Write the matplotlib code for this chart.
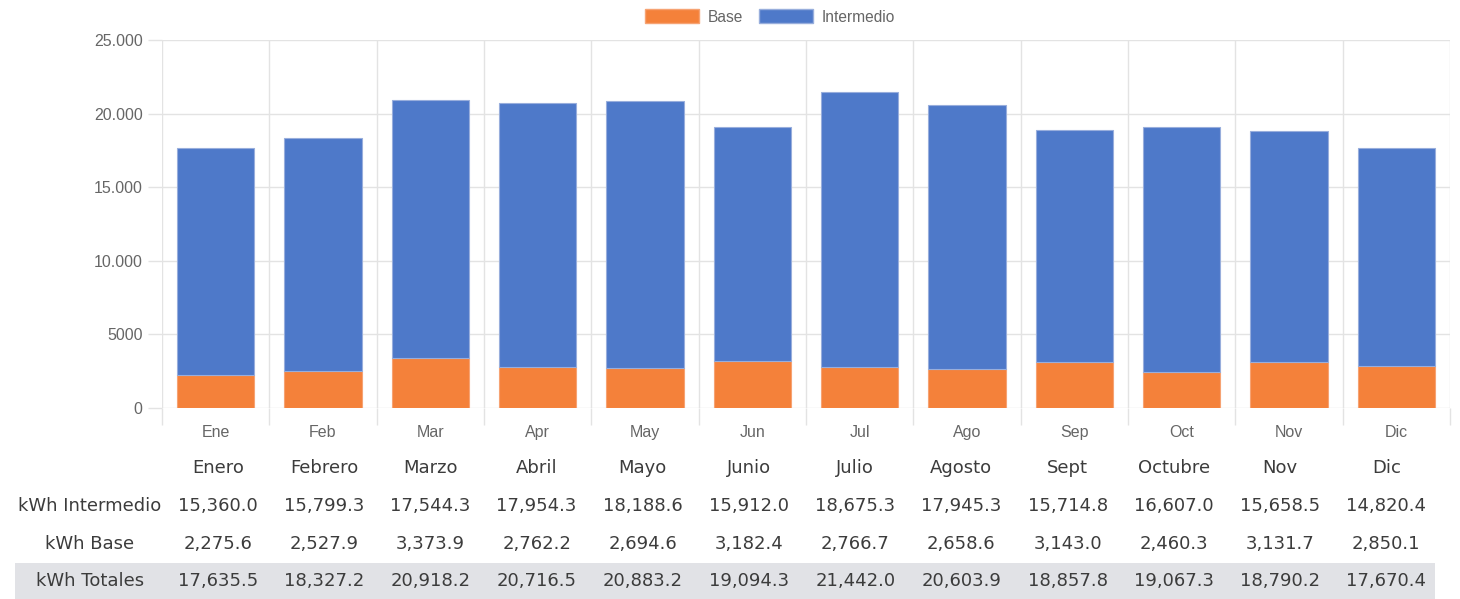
import matplotlib.pyplot as plt
import matplotlib.patches as mpatches
import numpy as np

meses_corto = ["Ene", "Feb", "Mar", "Apr", "May", "Jun", "Jul", "Ago", "Sep", "Oct", "Nov", "Dic"]
meses_largo = ["Enero", "Febrero", "Marzo", "Abril", "Mayo", "Junio", "Julio", "Agosto",
               "Sept", "Octubre", "Nov", "Dic"]
intermedio = [15360.0, 15799.3, 17544.3, 17954.3, 18188.6, 15912.0, 18675.3, 17945.3,
              15714.8, 16607.0, 15658.5, 14820.4]
base = [2275.6, 2527.9, 3373.9, 2762.2, 2694.6, 3182.4, 2766.7, 2658.6,
        3143.0, 2460.3, 3131.7, 2850.1]
totales = [17635.5, 18327.2, 20918.2, 20716.5, 20883.2, 19094.3, 21442.0, 20603.9,
           18857.8, 19067.3, 18790.2, 17670.4]
yticks = [0, 5000, 10000, 15000, 20000, 25000]
ylabels = ["0", "5000", "10.000", "15.000", "20.000", "25.000"]

W, H = 1460, 599
fig = plt.figure(figsize=(W / 100, H / 100), dpi=100)

def px(x, y):
    return x / W, 1 - y / H

azul = "#4e79c9"
naranja = "#f4813a"
grid = "#e3e3e3"

l, t = 162, 40
r, b = 1450, 408
ax = fig.add_axes([l / W, 1 - b / H, (r - l) / W, (b - t) / H])
x = np.arange(12)
ax.bar(x, base, width=0.72, color=naranja, edgecolor="#f6a373", linewidth=0.8, zorder=3)
ax.bar(x, intermedio, width=0.72, bottom=base, color=azul, edgecolor="#98aedc",
       linewidth=0.8, zorder=3)
ax.set_xlim(-0.5, 11.5)
ax.set_ylim(0, 25000)
for s in ax.spines.values():
    s.set_visible(False)
ax.set_yticks(yticks)
ax.set_yticklabels(ylabels)
ax.set_xticks(x)
ax.set_xticklabels(meses_corto)
ax.set_xticks(np.arange(-0.5, 12, 1), minor=True)
ax.tick_params(axis="x", which="major", length=0, pad=12, labelsize=11.5, labelcolor="#666666")
ax.tick_params(axis="x", which="minor", length=12, color=grid, width=1)
ax.tick_params(axis="y", length=10, color=grid, width=1, pad=4, labelsize=11.5,
               labelcolor="#666666")
for lab in ax.get_xticklabels() + ax.get_yticklabels():
    lab.set_family("Liberation Sans")
ax.grid(True, axis="y", color=grid, linewidth=1, zorder=0)
ax.grid(True, axis="x", which="minor", color=grid, linewidth=1, zorder=0)
ax.grid(False, axis="x", which="major")

# legend
h1 = mpatches.Patch(facecolor=naranja, edgecolor="#f6a373", label="Base")
h2 = mpatches.Patch(facecolor=azul, edgecolor="#98aedc", label="Intermedio")
fig.legend(handles=[h1, h2], loc="center", bbox_to_anchor=px(770, 17), ncol=2, frameon=False,
           handlelength=3.5, handleheight=0.95, handletextpad=0.55, columnspacing=1.0,
           prop={"family": "Liberation Sans", "size": 11.2}, labelcolor="#666666")

# table
tf = "DejaVu Sans"
tc = "#3c3c3c"
fs = 13
fig.patches.append(mpatches.Rectangle(px(15, 599), 1420 / W, 36 / H, transform=fig.transFigure,
                                      facecolor="#e1e2e6", edgecolor="none", zorder=0))
col_x = [218 + i * 106.2 for i in range(12)]
filas = [("kWh Intermedio", intermedio, 506), ("kWh Base", base, 544), ("kWh Totales", totales, 581)]
for cx, m in zip(col_x, meses_largo):
    fig.text(*px(cx, 468), m, ha="center", va="center", family=tf, size=fs, color=tc)
for nombre, vals, yy in filas:
    fig.text(*px(90, yy), nombre, ha="center", va="center", family=tf, size=fs, color=tc)
    for cx, v in zip(col_x, vals):
        fig.text(*px(cx, yy), f"{v:,.1f}", ha="center", va="center", family=tf, size=fs, color=tc)

fig.savefig("out.png", dpi=100)
